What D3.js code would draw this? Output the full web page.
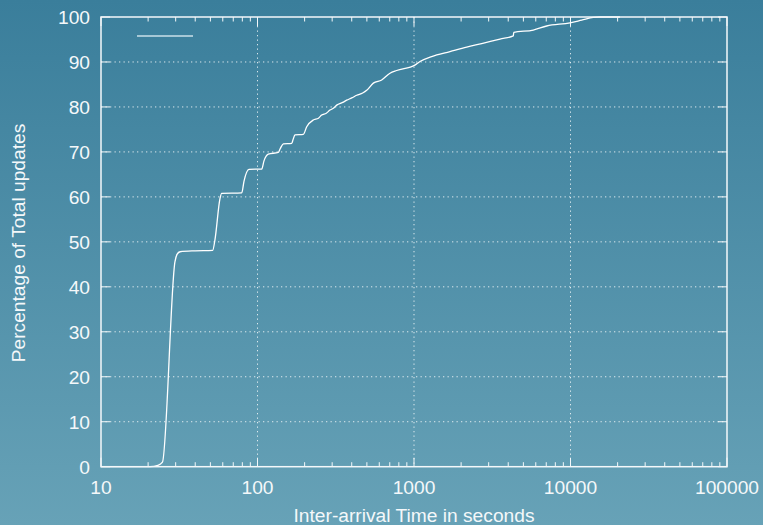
<!DOCTYPE html>
<html><head><meta charset="utf-8">
<script src="https://cdn.jsdelivr.net/npm/d3@7"></script>
<style>html,body{margin:0;padding:0;overflow:hidden;background:#3a7e9b}</style>
</head><body>
<script>
// Data: inter-arrival time (s) vs cumulative percentage of total updates
const timeSeconds = [10, 20.6, 23.1, 24.7, 29.7, 30.6, 32.0, 40, 51.7, 53.5, 57.5, 59.0, 79.3, 82, 88.2, 106.4, 110, 117.2, 135.8, 140, 146.3, 165.4, 169, 173.6, 196.2, 206.3, 227.3, 245, 257, 275, 290.6, 305, 320.7, 350, 371.5, 400, 430.5, 470, 498.9, 549.9, 621.8, 702.6, 774.7, 1013, 1092, 1297, 1698, 2171, 2708, 3544, 4311, 4340, 5784, 7047, 9927, 11794, 13985, 15436, 20700];
const percentUpdates = [0, 0, 0.3, 1.0, 45.6, 47.2, 47.8, 48.0, 48.1, 50.5, 59.5, 60.8, 60.9, 63.5, 66.1, 66.2, 68.0, 69.5, 69.9, 70.8, 71.8, 71.9, 72.8, 73.8, 73.9, 75.6, 77.1, 77.5, 78.2, 78.6, 79.3, 79.7, 80.4, 81.0, 81.5, 82.0, 82.6, 83.1, 83.7, 85.3, 86.0, 87.5, 88.1, 89.3, 90.1, 91.2, 92.3, 93.3, 94.1, 95.1, 95.8, 96.6, 97.1, 98.0, 98.7, 99.3, 99.9, 100, 100];
const yTicks = [0, 10, 20, 30, 40, 50, 60, 70, 80, 90, 100];
const xTickLabels = ["10", "100", "1000", "10000", "100000"];
const xMajor = [10, 100, 1000, 10000, 100000];

const W = 763, H = 525;
const m = {l: 101, t: 17, r: 727, b: 466.7};
const svg = d3.select("body").append("svg").attr("width", W).attr("height", H);

const defs = svg.append("defs");
const g = defs.append("linearGradient").attr("id", "bg").attr("x1", 0).attr("y1", 0).attr("x2", 0).attr("y2", 1);
g.append("stop").attr("offset", "0%").attr("stop-color", "#3a7e9b");
g.append("stop").attr("offset", "100%").attr("stop-color", "#67a2b7");
svg.append("rect").attr("width", W).attr("height", H).attr("fill", "url(#bg)");

const x = d3.scaleLog().domain([10, 100000]).range([m.l, m.r]);
const y = d3.scaleLinear().domain([0, 100]).range([m.b, m.t]);

const font = "'Liberation Sans', Arial, Helvetica, sans-serif";
const fg = "#f4f8fa";
const fs = 19.2;

// grid
const grid = svg.append("g").attr("stroke", "rgba(255,255,255,0.8)").attr("stroke-width", 1).attr("stroke-dasharray", "1.3,3.2");
grid.selectAll("line.h").data(yTicks.filter(d => d > 0 && d < 100)).join("line")
  .attr("x1", m.l).attr("x2", m.r).attr("y1", d => y(d)).attr("y2", d => y(d));
grid.selectAll("line.v").data(xMajor.filter(d => d > 10 && d < 100000)).join("line").attr("class", "v")
  .attr("y1", m.t).attr("y2", m.b).attr("x1", d => x(d)).attr("x2", d => x(d));

// ticks (mirrored on all sides, inward)
const minor = [];
for (let e = 1; e < 5; e++) for (let k = 2; k <= 9; k++) minor.push(k * Math.pow(10, e));
const tk = svg.append("g").attr("stroke", fg).attr("stroke-width", 1);
xMajor.forEach(v => {
  tk.append("line").attr("x1", x(v)).attr("x2", x(v)).attr("y1", m.b).attr("y2", m.b - 9);
  tk.append("line").attr("x1", x(v)).attr("x2", x(v)).attr("y1", m.t).attr("y2", m.t + 9);
});
minor.forEach(v => {
  tk.append("line").attr("x1", x(v)).attr("x2", x(v)).attr("y1", m.b).attr("y2", m.b - 4.5);
  tk.append("line").attr("x1", x(v)).attr("x2", x(v)).attr("y1", m.t).attr("y2", m.t + 4.5);
});
yTicks.forEach(v => {
  tk.append("line").attr("x1", m.l).attr("x2", m.l + 9).attr("y1", y(v)).attr("y2", y(v));
  tk.append("line").attr("x1", m.r).attr("x2", m.r - 9).attr("y1", y(v)).attr("y2", y(v));
});

// curve
const line = d3.line().x((d, i) => x(timeSeconds[i])).y(d => y(d)).curve(d3.curveMonotoneX);
svg.append("path").datum(percentUpdates).attr("d", line)
  .attr("fill", "none").attr("stroke", "#ffffff").attr("stroke-width", 1.3).attr("stroke-linejoin", "round");

// frame
svg.append("rect").attr("x", m.l).attr("y", m.t).attr("width", m.r - m.l).attr("height", m.b - m.t)
  .attr("fill", "none").attr("stroke", fg).attr("stroke-width", 1.5);

// legend sample (empty title)
svg.append("line").attr("x1", 137).attr("x2", 193).attr("y1", 36).attr("y2", 36)
  .attr("stroke", "#a6c8d6").attr("stroke-width", 1.8);

// tick labels
svg.append("g").selectAll("text").data(yTicks).join("text")
  .attr("x", 90).attr("y", d => y(d) + 6.8).attr("text-anchor", "end")
  .attr("font-family", font).attr("font-size", fs).attr("fill", fg).text(d => d);
svg.append("g").selectAll("text").data(xMajor).join("text")
  .attr("x", d => x(d)).attr("y", 493.5).attr("text-anchor", "middle")
  .attr("font-family", font).attr("font-size", fs).attr("fill", fg).text((d, i) => xTickLabels[i]);

// axis titles
svg.append("text").attr("x", 414).attr("y", 522).attr("text-anchor", "middle")
  .attr("font-family", font).attr("font-size", fs).attr("fill", fg).text("Inter-arrival Time in seconds");
svg.append("text").attr("transform", "translate(25,243) rotate(-90)").attr("text-anchor", "middle")
  .attr("font-family", font).attr("font-size", fs).attr("fill", fg).text("Percentage of Total updates");
</script>
</body></html>
